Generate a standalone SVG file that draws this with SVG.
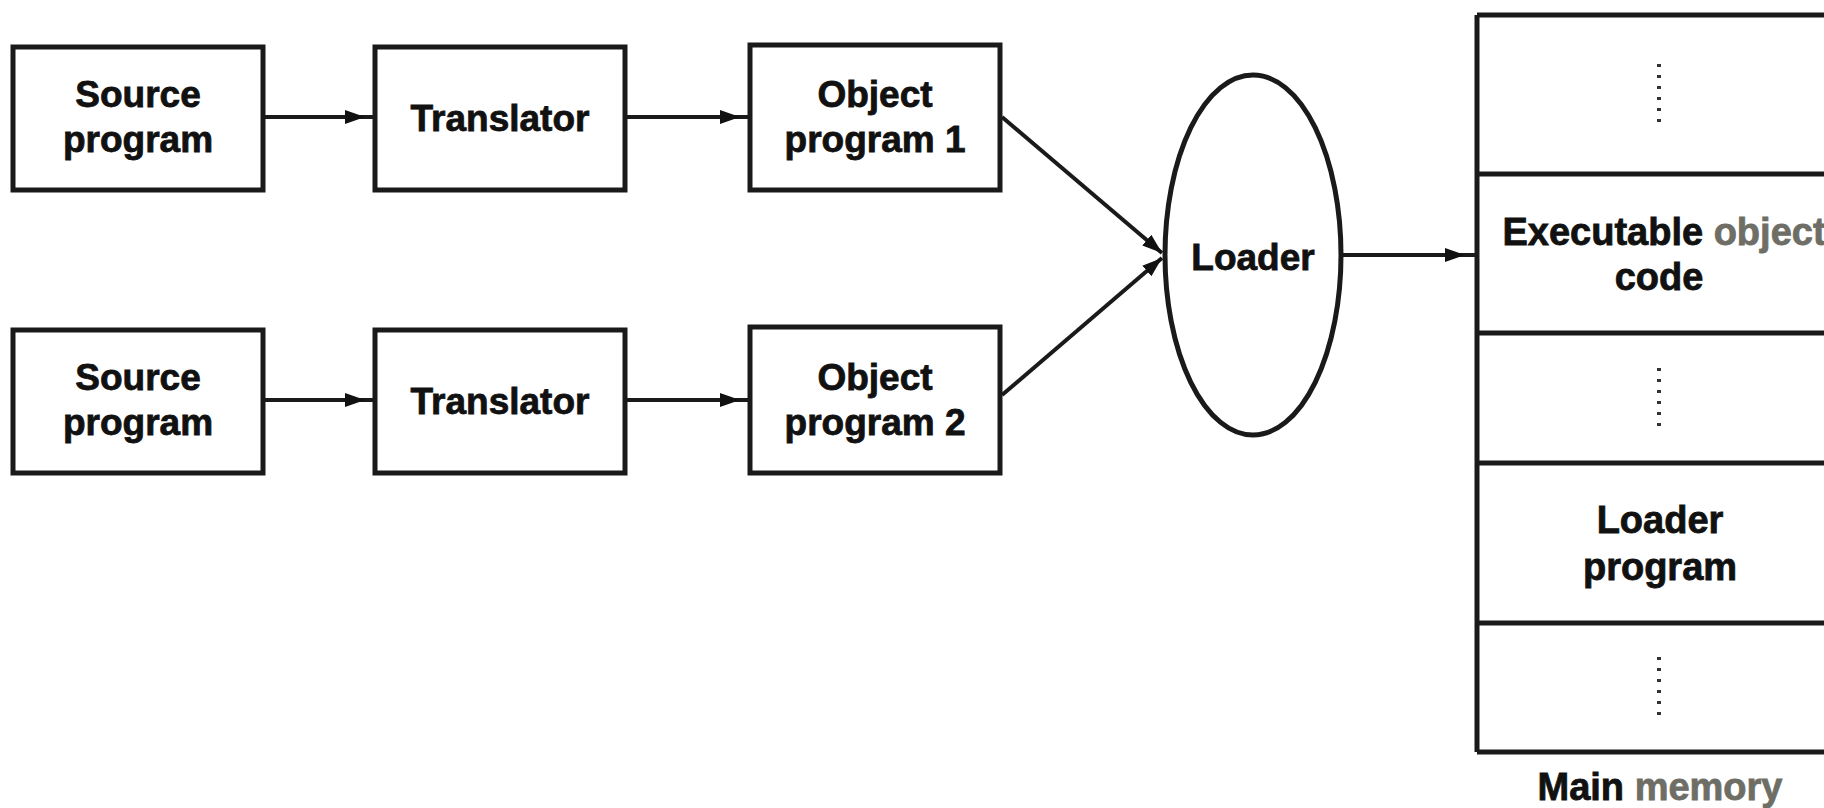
<svg xmlns="http://www.w3.org/2000/svg" width="1824" height="808" viewBox="0 0 1824 808">
<style>
.box{fill:#fff;stroke:#1a1a1a;stroke-width:5}
.t{font-family:"Liberation Sans",Arial,sans-serif;font-weight:bold;font-size:37px;fill:#111;stroke:#111;stroke-width:0.8;text-anchor:middle}
.faded{fill:#6e6e66;stroke:#6e6e66}
.conn{stroke:#1a1a1a;stroke-width:4;fill:none}
.mem{stroke:#1a1a1a;stroke-width:5;fill:none}
.dots{stroke:#333;stroke-width:4;stroke-dasharray:3 8;fill:none}
</style>
<defs>
<marker id="ah" markerUnits="userSpaceOnUse" markerWidth="20" markerHeight="14" refX="30" refY="7" orient="auto">
<path d="M0,0 L20,7 L0,14 z" fill="#111"/>
</marker>
<marker id="ah2" markerUnits="userSpaceOnUse" markerWidth="20" markerHeight="14" refX="20" refY="7" orient="auto">
<path d="M0,0 L20,7 L0,14 z" fill="#111"/>
</marker>
</defs>
<rect width="1824" height="808" fill="#fff"/>

<g id="source1">
<rect class="box" x="13" y="47" width="250" height="143"/>
<text class="t" x="138" y="107">Source</text>
<text class="t" x="138" y="152">program</text>
</g>
<g id="translator1">
<rect class="box" x="375" y="47" width="250" height="143"/>
<text class="t" x="500" y="131">Translator</text>
</g>
<g id="object1">
<rect class="box" x="750" y="45" width="250" height="145"/>
<text class="t" x="875" y="107">Object</text>
<text class="t" x="875" y="152">program 1</text>
</g>

<g id="source2">
<rect class="box" x="13" y="330" width="250" height="143"/>
<text class="t" x="138" y="390">Source</text>
<text class="t" x="138" y="435">program</text>
</g>
<g id="translator2">
<rect class="box" x="375" y="330" width="250" height="143"/>
<text class="t" x="500" y="414">Translator</text>
</g>
<g id="object2">
<rect class="box" x="750" y="327" width="250" height="146"/>
<text class="t" x="875" y="390">Object</text>
<text class="t" x="875" y="435">program 2</text>
</g>

<g id="loader">
<ellipse cx="1253" cy="255" rx="88" ry="180" fill="#fff" stroke="#1a1a1a" stroke-width="5"/>
<text class="t" x="1253" y="270">Loader</text>
</g>

<g id="memory">
<path class="mem" d="M1477,15 V752 M1477,15 H1824 M1477,174 H1824 M1477,333 H1824 M1477,463 H1824 M1477,623 H1824 M1477,752 H1824"/>
<path class="dots" d="M1659,64 V126 M1659,368 V428 M1659,657 V716"/>
<text class="t" x="1664" y="245" style="font-size:38px">Executable <tspan class="faded">object</tspan></text>
<text class="t" x="1659" y="290" style="font-size:38px">code</text>
<text class="t" x="1660" y="533" style="font-size:38px">Loader</text>
<text class="t" x="1660" y="580" style="font-size:38px">program</text>
<text class="t" x="1660" y="800" style="font-size:38px">Main <tspan class="faded">memory</tspan></text>
</g>

<g id="connectors">
<line class="conn" x1="263" y1="117" x2="375" y2="117" marker-end="url(#ah)"/>
<line class="conn" x1="625" y1="117" x2="750" y2="117" marker-end="url(#ah)"/>
<line class="conn" x1="263" y1="400" x2="375" y2="400" marker-end="url(#ah)"/>
<line class="conn" x1="625" y1="400" x2="750" y2="400" marker-end="url(#ah)"/>
<line class="conn" x1="1002" y1="117" x2="1162" y2="253" marker-end="url(#ah2)"/>
<line class="conn" x1="1002" y1="395" x2="1162" y2="258" marker-end="url(#ah2)"/>
<line class="conn" x1="1343" y1="255" x2="1475" y2="255" marker-end="url(#ah)"/>
</g>
</svg>
